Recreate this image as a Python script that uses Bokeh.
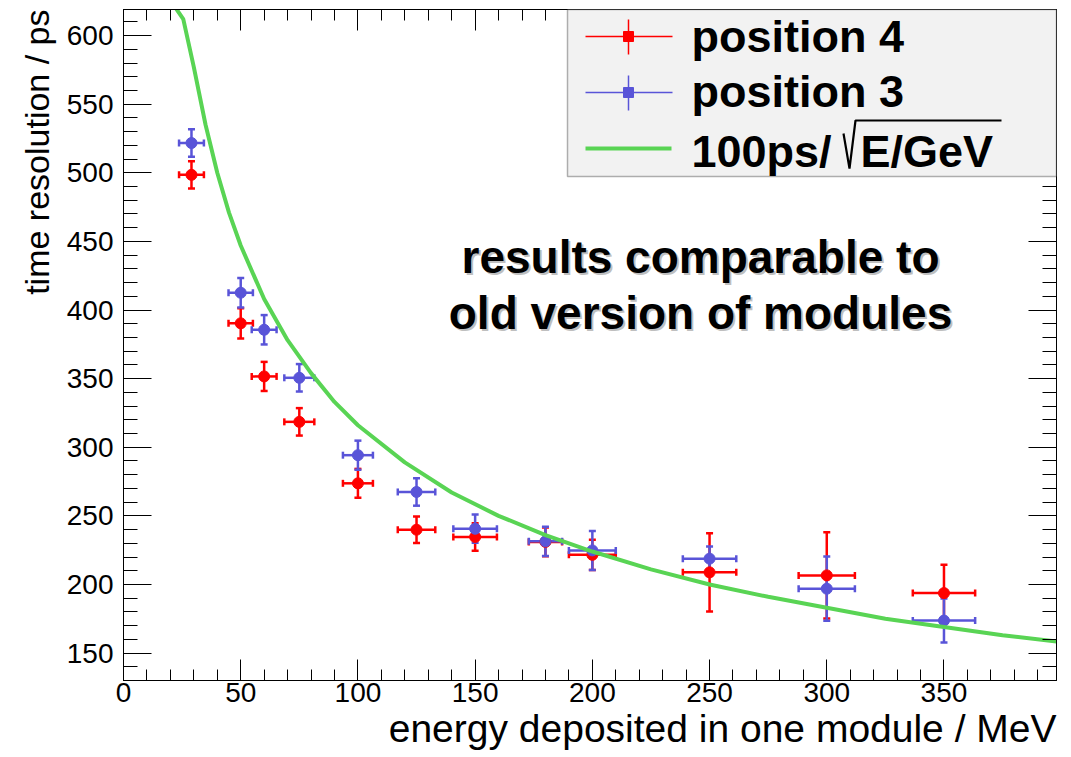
from bokeh.plotting import figure
from bokeh.models import (ColumnDataSource, Whisker, TeeHead, LinearAxis, SingleIntervalTicker,
                          Range1d, BoxAnnotation, Label, CustomJSTickFormatter, Title)
from bokeh.embed import file_html
from bokeh.resources import INLINE

# ---------------- data ----------------
energy = [29, 50, 60, 75, 100, 125, 150, 180, 200, 250, 300, 350]          # MeV
energy_err = [5.3, 5.2, 5.3, 6.4, 6.4, 8.0, 9.3, 7.1, 10.0, 11.4, 12.0, 13.3]

pos4 = [498.5, 390.3, 351.6, 318.5, 273.7, 239.9, 234.6, 231.0, 221.6, 208.8, 206.6, 193.7]  # ps
pos4_err = [10.0, 11.0, 10.6, 10.0, 10.5, 9.7, 10.0, 10.5, 11.0, 28.6, 31.5, 20.7]

pos3 = [521.7, 412.6, 385.6, 350.6, 294.2, 267.4, 240.6, 231.4, 224.8, 218.8, 196.9, 173.7]
pos3_err = [10.0, 10.7, 10.7, 10.0, 10.6, 10.0, 10.3, 10.7, 14.2, 8.9, 23.4, 16.0]

curve_e = [21.5, 25.5, 30, 35, 40, 45, 50, 60, 70, 80, 90, 100, 120, 140, 160, 180,
           200, 225, 250, 275, 300, 325, 350, 375, 398]
curve_t = [622, 612, 577, 535, 500, 471, 447, 408, 378, 354, 333, 316, 289, 267, 250, 236,
           224, 211, 200, 191, 183, 175, 169, 163, 158.5]

legend_labels = ["position 4", "position 3", "100ps/", "E/GeV"]
x_title = "energy deposited in one module / MeV"
y_title = "time resolution / ps"
note_lines = ["results comparable to", "old version of modules"]

RED = "#ff0000"
BLUE = "#5954d8"
GREEN = "#59d454"
FONT = "Liberation Sans"

# ---------------- layout ----------------
W, H = 1071, 757
FL, FR, FT, FB = 123, 1056, 9, 680
X0, X1 = 0, 398
Y0, Y1 = 130, 619
BASE_FIX = 0.31   # em correction for alphabetic baseline placement


def dx(px):
    return X0 + (px - FL) / (FR - FL) * (X1 - X0)


def dy(py):
    return Y1 - (py - FT) / (FB - FT) * (Y1 - Y0)


p = figure(width=W, height=H, x_range=Range1d(X0, X1), y_range=Range1d(Y0, Y1),
           output_backend="svg", toolbar_location=None,
           min_border_left=FL, min_border_right=W - FR, min_border_top=FT, min_border_bottom=H - FB)
p.xgrid.visible = False
p.ygrid.visible = False
p.outline_line_color = "black"
p.outline_line_width = 1
p.background_fill_color = "white"
p.border_fill_color = "white"


def style_axis(ax, major_in, minor_in):
    ax.ticker = SingleIntervalTicker(interval=50, num_minor_ticks=5)
    ax.major_tick_in = major_in
    ax.major_tick_out = 0
    ax.minor_tick_in = minor_in
    ax.minor_tick_out = 0
    ax.axis_line_color = "black"
    ax.major_tick_line_color = "black"
    ax.minor_tick_line_color = "black"
    ax.major_tick_line_width = 1
    ax.minor_tick_line_width = 1
    ax.major_label_text_font = FONT
    ax.major_label_text_font_size = "28px"
    ax.major_label_text_color = "black"


xa = p.xaxis[0]
style_axis(xa, 21, 11)
xa.major_label_standoff = 2

ya = p.yaxis[0]
style_axis(ya, 28, 14)
ya.major_label_standoff = 10

blank = CustomJSTickFormatter(code="return '';")
top_ax = LinearAxis(formatter=blank)
style_axis(top_ax, 21, 11)
top_ax.major_label_standoff = 0
top_ax.major_label_text_font_size = "1px"
p.add_layout(top_ax, "above")

right_ax = LinearAxis(formatter=blank)
style_axis(right_ax, 28, 14)
right_ax.major_label_standoff = 0
right_ax.major_label_text_font_size = "1px"
p.add_layout(right_ax, "right")

# axis titles, right / top aligned as in the reference
p.add_layout(Title(text=x_title, align="right", text_font=FONT, text_font_style="normal",
                   text_font_size="39px", text_color="black", standoff=0), "below")
p.add_layout(Title(text=y_title, align="right", text_font=FONT, text_font_style="normal",
                   text_font_size="34px", text_color="black", standoff=15), "left")


def add_series(vals, errs, color):
    src = ColumnDataSource(dict(
        e=energy, t=vals,
        e_lo=[a - b for a, b in zip(energy, energy_err)],
        e_hi=[a + b for a, b in zip(energy, energy_err)],
        t_lo=[a - b for a, b in zip(vals, errs)],
        t_hi=[a + b for a, b in zip(vals, errs)],
    ))
    for dim, base, lo, hi in (("height", "e", "t_lo", "t_hi"), ("width", "t", "e_lo", "e_hi")):
        w = Whisker(source=src, base=base, lower=lo, upper=hi, dimension=dim,
                    line_color=color, line_width=2.5,
                    upper_head=TeeHead(size=7, line_color=color, line_width=2.5),
                    lower_head=TeeHead(size=7, line_color=color, line_width=2.5))
        p.add_layout(w)
    p.scatter("e", "t", source=src, marker="circle", size=11, fill_color=color, line_color=color)


add_series(pos4, pos4_err, RED)
add_series(pos3, pos3_err, BLUE)

p.line(curve_e, curve_t, line_color=GREEN, line_width=4)

# ---------------- annotation text ----------------
NOTE_SIZE = 46
for txt, base_px in zip(note_lines, [275, 331]):
    yy = dy(base_px - BASE_FIX * NOTE_SIZE - 4)
    p.add_layout(Label(x=dx(700), y=yy, text=txt, text_align="center",
                       text_baseline="alphabetic", text_font=FONT, text_font_style="bold",
                       text_font_size=f"{NOTE_SIZE}px", text_color="#7f7f7f", text_alpha=0.5,
                       x_offset=2, y_offset=-2))
    p.add_layout(Label(x=dx(700), y=yy, text=txt, text_align="center",
                       text_baseline="alphabetic", text_font=FONT, text_font_style="bold",
                       text_font_size=f"{NOTE_SIZE}px", text_color="black"))

# ---------------- legend ----------------
box = BoxAnnotation(left=dx(567), right=X1, top=Y1, bottom=dy(176),
                    fill_color="#f2f2f2", fill_alpha=1.0, line_color="black", line_width=1.5)
p.add_layout(box)

rows = [36, 92, 148]
for color, cy in ((RED, rows[0]), (BLUE, rows[1])):
    p.segment(x0=[dx(585)], y0=[dy(cy)], x1=[dx(672)], y1=[dy(cy)], line_color=color,
              line_width=1.5, level="overlay")
    p.segment(x0=[dx(628)], y0=[dy(cy - 17)], x1=[dx(628)], y1=[dy(cy + 18)], line_color=color,
              line_width=1.5, level="overlay")
    p.scatter([dx(628)], [dy(cy)], marker="square", size=10, fill_color=color, line_color=color,
              level="overlay")
p.segment(x0=[dx(585)], y0=[dy(rows[2])], x1=[dx(671)], y1=[dy(rows[2])], line_color=GREEN,
          line_width=4, level="overlay")
# square-root sign with overline
p.line(x=[dx(843), dx(849), dx(855), dx(1001)], y=[dy(133), dy(168), dy(120), dy(120)],
       line_color="black", line_width=2.2, level="overlay")

LEG_SIZE = 45
for txt, xp, bp in ((legend_labels[0], 691, 50), (legend_labels[1], 691, 105),
                    (legend_labels[2], 691, 165), (legend_labels[3], 860, 165)):
    p.add_layout(Label(x=dx(xp), y=dy(bp - BASE_FIX * LEG_SIZE), text=txt, text_align="left",
                       text_baseline="alphabetic", text_font=FONT, text_font_style="bold",
                       text_font_size=f"{LEG_SIZE}px", text_color="black"))

open("out.html", "w").write(file_html(p, INLINE))
